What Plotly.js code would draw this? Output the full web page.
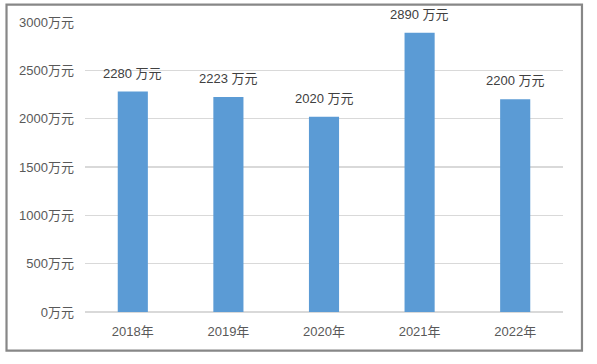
<!DOCTYPE html>
<html>
<head>
<meta charset="utf-8">
<script src="https://cdn.plot.ly/plotly-3.0.1.min.js"></script>
<style>html,body{margin:0;padding:0;background:#fff;}#chart{width:597px;height:364px;}</style>
</head>
<body>
<div id="chart"></div>
<script>
const years = ["2018年", "2019年", "2020年", "2021年", "2022年"];
const values = [2280, 2223, 2020, 2890, 2200];
const valueLabels = ["2280 万元", "2223 万元", "2020 万元", "2890 万元", "2200 万元"];
const yTickVals = [0, 500, 1000, 1500, 2000, 2500, 3000];
const yTickText = ["0万元", "500万元", "1000万元", "1500万元", "2000万元", "2500万元", "3000万元"];

const font = '"Liberation Sans", "Noto Sans CJK SC", sans-serif';

const trace = {
  type: 'bar',
  x: years,
  y: values,
  marker: {color: '#5b9bd5'},
  hoverinfo: 'none'
};

const annotations = years.map((c, i) => ({
  x: c, y: values[i], xref: 'x', yref: 'y',
  text: valueLabels[i], showarrow: false,
  yanchor: 'bottom', yshift: 9,
  font: {family: font, size: 13, color: '#404040'}
}));

const layout = {
  width: 597, height: 364,
  margin: {l: 85, r: 34, t: 22, b: 52, pad: 0},
  paper_bgcolor: '#ffffff', plot_bgcolor: '#ffffff',
  showlegend: false,
  bargap: 0.685,
  font: {family: font, size: 13, color: '#595959'},
  xaxis: {
    type: 'category',
    showgrid: false, zeroline: false,
    showline: false,
    ticks: '', ticklabelstandoff: 10,
    tickfont: {family: font, size: 13, color: '#595959'},
    fixedrange: true
  },
  yaxis: {
    range: [0, 3000],
    tickvals: yTickVals, ticktext: yTickText,
    showgrid: true, gridcolor: '#d9d9d9', gridwidth: 1.4,
    zeroline: true, zerolinecolor: '#d9d9d9', zerolinewidth: 1.4,
    showline: false, ticks: '', ticklabelstandoff: 10,
    tickfont: {family: font, size: 13, color: '#595959'},
    fixedrange: true
  },
  annotations: annotations,
  shapes: [{
    type: 'rect', xref: 'paper', yref: 'paper',
    x0: -0.1642, x1: 1.0397, y0: -0.1333, y1: 1.0597,
    line: {color: '#878787', width: 2.2}, fillcolor: 'rgba(0,0,0,0)', layer: 'above'
  }]
};

Plotly.newPlot('chart', [trace], layout, {displayModeBar: false, staticPlot: true});
</script>
</body>
</html>
